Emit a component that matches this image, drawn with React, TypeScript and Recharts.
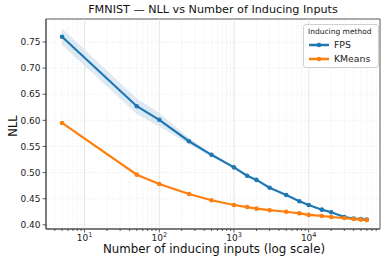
import { ComposedChart, Line, Area, XAxis, YAxis, CartesianGrid, ReferenceLine, ReferenceArea } from "recharts"

const sizes = [5, 50, 100, 250, 500, 1000, 1500, 2000, 3000, 5000, 7500, 10000, 15000, 20000, 30000, 40000, 50000, 60000]
const fpsMean = [0.760, 0.627, 0.601, 0.560, 0.534, 0.510, 0.494, 0.486, 0.471, 0.457, 0.445, 0.438, 0.429, 0.424, 0.415, 0.412, 0.411, 0.410]
const fpsStd = [0.016, 0.015, 0.013, 0.006, 0.003, 0.002, 0.002, 0.001, 0.001, 0.001, 0.001, 0.001, 0.001, 0.001, 0.001, 0.001, 0.001, 0.001]
const kmeansMean = [0.595, 0.496, 0.478, 0.459, 0.447, 0.438, 0.434, 0.431, 0.428, 0.425, 0.422, 0.419, 0.417, 0.415, 0.413, 0.411, 0.410, 0.409]

const decades = [1, 10, 100, 1000, 10000]
const yTicks = [0.40, 0.45, 0.50, 0.55, 0.60, 0.65, 0.70, 0.75]

const xDomain = [3.05, 90000]
const yDomain = [0.392, 0.794]

const xTicks = decades.flatMap(d => [1, 2, 3, 4, 5, 6, 7, 8, 9].map(m => m * d)).filter(v => v > xDomain[0] && v < xDomain[1])

const data = sizes.map((n, i) => ({
  n,
  fps: fpsMean[i],
  band: [fpsMean[i] - fpsStd[i], fpsMean[i] + fpsStd[i]],
  kmeans: kmeansMean[i]
}))

const FONT = "DejaVu Sans, sans-serif"

const isMajor = (v: number) => {
  const e = Math.log10(v)
  return Math.abs(e - Math.round(e)) < 1e-6
}

const XTick = ({ x, y, payload }: any) => {
  const v = payload.value
  const major = isMajor(v)
  return (
    <g>
      <line x1={x} x2={x} y1={y} y2={y + (major ? 3.5 : 2)} stroke="#333" strokeWidth={0.8} />
      {major && (
        <text x={x} y={y + 11.5} textAnchor="middle" fontSize={9} fill="#222" fontFamily={FONT}>
          10<tspan dy={-4} fontSize={6.5}>{Math.round(Math.log10(v))}</tspan>
        </text>
      )}
    </g>
  )
}

const LegendBox = () => (
  <div
    style={{
      position: "absolute",
      left: 303,
      top: 24,
      width: 74,
      height: 42,
      border: "1px solid #d0d0d0",
      borderRadius: 3,
      background: "rgba(255,255,255,0.85)",
      fontFamily: FONT,
      color: "#222"
    }}
  >
    <div style={{ position: "absolute", left: 4, top: 2, fontSize: 7.5, whiteSpace: "nowrap" }}>Inducing method</div>
    {[
      { name: "FPS", color: "#1f77b4", top: 14 },
      { name: "KMeans", color: "#ff7f0e", top: 28 }
    ].map(item => (
      <div key={item.name} style={{ position: "absolute", left: 4, top: item.top, height: 12, width: 70 }}>
        <svg width={22} height={12} style={{ position: "absolute", left: 0, top: 0 }}>
          <line x1={1} x2={21} y1={6} y2={6} stroke={item.color} strokeWidth={2.5} />
          <circle cx={11} cy={6} r={2.3} fill={item.color} />
        </svg>
        <span style={{ position: "absolute", left: 26, top: 0, fontSize: 9.3, lineHeight: "12px" }}>{item.name}</span>
      </div>
    ))}
  </div>
)

export default function App() {
  return (
    <div style={{ position: "absolute", left: 0, top: 0, width: 389, height: 264, background: "#fff" }}>
      <div
        style={{
          position: "absolute",
          left: 46,
          width: 334,
          top: 3,
          textAlign: "center",
          fontSize: 11.2,
          fontFamily: FONT,
          color: "#111",
          whiteSpace: "nowrap"
        }}
      >
        FMNIST — NLL vs Number of Inducing Inputs
      </div>
      <ComposedChart width={389} height={264} data={data} margin={{ top: 19, right: 9, left: 0, bottom: 0 }}>
        <CartesianGrid stroke="#ececec" strokeWidth={0.6} strokeDasharray="2 1" />
        {decades.filter(d => d > xDomain[0]).map(d => (
          <ReferenceLine key={d} x={d} stroke="#e2e2e2" strokeWidth={0.8} />
        ))}
        <XAxis
          dataKey="n"
          type="number"
          scale="log"
          domain={xDomain}
          allowDataOverflow
          ticks={xTicks}
          interval={0}
          tick={<XTick />}
          tickLine={false}
          tickSize={0}
          tickMargin={0}
          height={35}
          axisLine={{ stroke: "#333", strokeWidth: 0.8 }}
          label={{
            content: () => (
              <text x={214} y={253} textAnchor="middle" fontSize={11.8} fill="#111" fontFamily={FONT}>
                Number of inducing inputs (log scale)
              </text>
            )
          }}
        />
        <YAxis
          type="number"
          domain={yDomain}
          allowDataOverflow
          ticks={yTicks}
          interval={0}
          width={46}
          tickSize={3.5}
          tickMargin={2}
          tickFormatter={(v: number) => v.toFixed(2)}
          tick={{ fontSize: 9, fill: "#222", fontFamily: FONT }}
          tickLine={{ stroke: "#333", strokeWidth: 0.8 }}
          axisLine={{ stroke: "#333", strokeWidth: 0.8 }}
          label={{
            content: () => (
              <text x={13} y={126} transform="rotate(-90 13 126)" textAnchor="middle" dominantBaseline="central" fontSize={11.5} fill="#111" fontFamily={FONT}>
                NLL
              </text>
            )
          }}
        />
        <Area dataKey="band" stroke="none" fill="#1f77b4" fillOpacity={0.15} isAnimationActive={false} />
        <Line dataKey="fps" stroke="#1f77b4" strokeWidth={2.2} dot={{ r: 2.3, fill: "#1f77b4", stroke: "none" }} isAnimationActive={false} />
        <Line dataKey="kmeans" stroke="#ff7f0e" strokeWidth={2.2} dot={{ r: 2.3, fill: "#ff7f0e", stroke: "none" }} isAnimationActive={false} />
        <ReferenceArea x1={xDomain[0]} x2={xDomain[1]} y1={yDomain[0]} y2={yDomain[1]} fill="none" stroke="#333" strokeWidth={0.8} ifOverflow="visible" />
      </ComposedChart>
      <LegendBox />
    </div>
  )
}
